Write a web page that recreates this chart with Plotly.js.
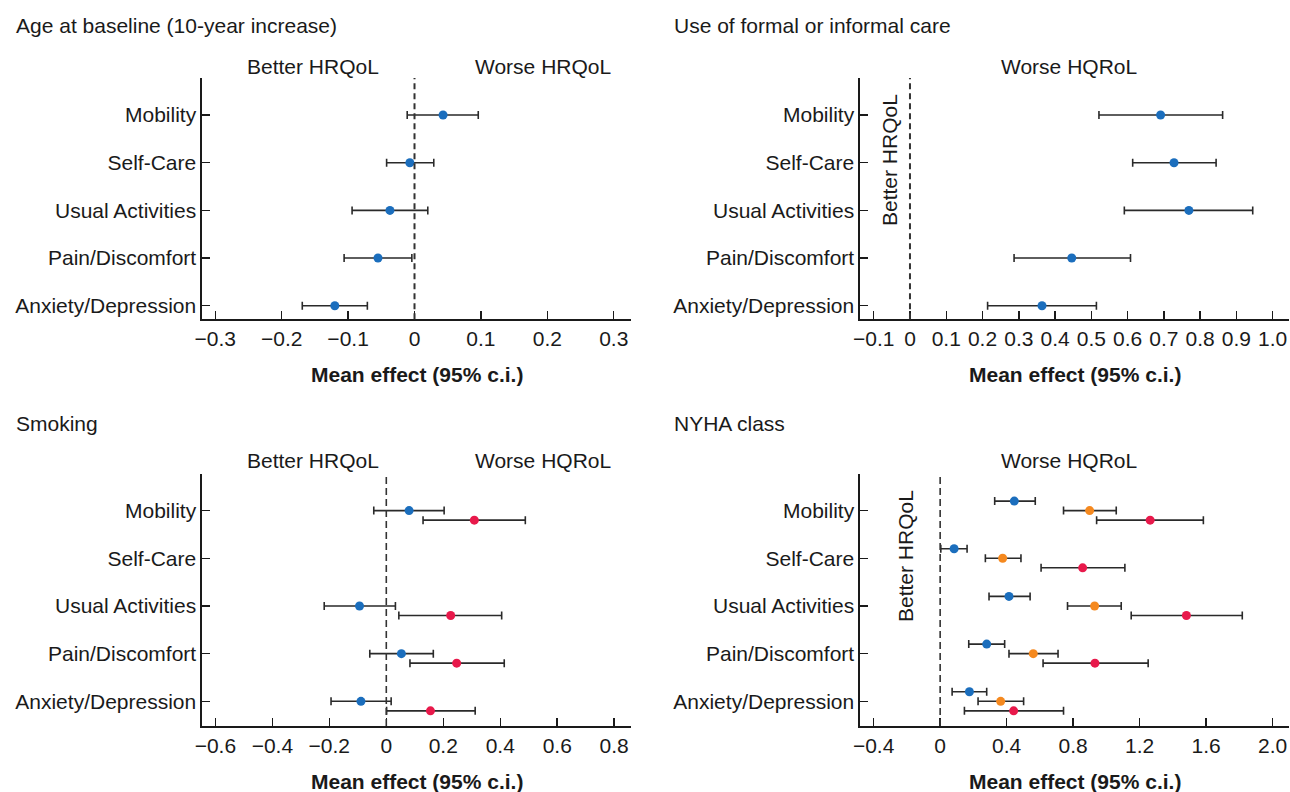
<!DOCTYPE html>
<html><head><meta charset="utf-8">
<script src="https://cdn.plot.ly/plotly-3.0.1.min.js"></script>
<style>html,body{margin:0;padding:0;background:#fff}#chart{width:1290px;height:792px}</style>
</head><body><div id="chart"></div>
<script>
// ---------- DATA ----------
const categories = ["Mobility", "Self-Care", "Usual Activities", "Pain/Discomfort", "Anxiety/Depression"];

// Age at baseline (10-year increase)
const ageMean  = [0.043, -0.007, -0.037, -0.055, -0.120];
const ageLower = [-0.011, -0.042, -0.094, -0.106, -0.169];
const ageUpper = [0.096, 0.029, 0.020, -0.004, -0.071];

// Use of formal or informal care
const careMean  = [0.691, 0.728, 0.769, 0.446, 0.364];
const careLower = [0.521, 0.614, 0.591, 0.287, 0.214];
const careUpper = [0.862, 0.844, 0.945, 0.608, 0.514];

// Smoking (two groups)
const smokeAMean  = [0.080, null, -0.094, 0.053, -0.089];
const smokeALower = [-0.044, null, -0.218, -0.058, -0.194];
const smokeAUpper = [0.203, null, 0.032, 0.165, 0.017];
const smokeBMean  = [0.309, null, 0.226, 0.247, 0.155];
const smokeBLower = [0.129, null, 0.044, 0.083, 0.001];
const smokeBUpper = [0.488, null, 0.405, 0.414, 0.312];

// NYHA class (three groups)
const nyhaIIMean  = [0.446, 0.084, 0.414, 0.280, 0.176];
const nyhaIILower = [0.328, 0.004, 0.294, 0.172, 0.072];
const nyhaIIUpper = [0.572, 0.162, 0.541, 0.388, 0.280];
const nyhaIIIMean  = [0.899, 0.376, 0.929, 0.560, 0.364];
const nyhaIIILower = [0.742, 0.272, 0.766, 0.414, 0.228];
const nyhaIIIUpper = [1.059, 0.486, 1.089, 0.709, 0.502];
const nyhaIVMean  = [1.263, 0.857, 1.481, 0.931, 0.442];
const nyhaIVLower = [0.941, 0.607, 1.149, 0.619, 0.146];
const nyhaIVUpper = [1.583, 1.111, 1.817, 1.251, 0.742];

// Tick labels
const ageTickVals  = [-0.3, -0.2, -0.1, 0, 0.1, 0.2, 0.3];
const ageTickText  = ["−0.3", "−0.2", "−0.1", "0", "0.1", "0.2", "0.3"];
const careTickVals = [-0.1, 0, 0.1, 0.2, 0.3, 0.4, 0.5, 0.6, 0.7, 0.8, 0.9, 1.0];
const careTickText = ["−0.1", "0", "0.1", "0.2", "0.3", "0.4", "0.5", "0.6", "0.7", "0.8", "0.9", "1.0"];
const smokeTickVals = [-0.6, -0.4, -0.2, 0, 0.2, 0.4, 0.6, 0.8];
const smokeTickText = ["−0.6", "−0.4", "−0.2", "0", "0.2", "0.4", "0.6", "0.8"];
const nyhaTickVals = [-0.4, 0, 0.4, 0.8, 1.2, 1.6, 2.0];
const nyhaTickText = ["−0.4", "0", "0.4", "0.8", "1.2", "1.6", "2.0"];

// Texts
const panelTitles = ["Age at baseline (10-year increase)", "Use of formal or informal care", "Smoking", "NYHA class"];
const betterText = "Better HRQoL";
const worseTextA = "Worse HRQoL";
const worseTextB = "Worse HQRoL";
const xTitle = "Mean effect (95% c.i.)";

// ---------- STYLE / LAYOUT ----------
const W = 1290, H = 792;
const FONT = "Liberation Sans, Arial, Helvetica, sans-serif";
const FS = 21;
const BLUE = "#1b6ebd", RED = "#e8194b", ORANGE = "#f5891f";
const INK = "#1a1a1a";
const px = v => v / W;
const py = v => 1 - v / H;

const boxes = [
  {x0: 202, x1: 631, y0: 78, y1: 319.3, range: [-0.320, 0.326], tv: ageTickVals, tt: ageTickText, yr: [-0.285, 4.777]},
  {x0: 860, x1: 1289, y0: 78, y1: 319.3, range: [-0.1378, 1.045], tv: careTickVals, tt: careTickText, yr: [-0.285, 4.777]},
  {x0: 202, x1: 631, y0: 474, y1: 726, range: [-0.647, 0.859], tv: smokeTickVals, tt: smokeTickText, yr: [-0.518, 4.768]},
  {x0: 860, x1: 1289, y0: 474, y1: 726, range: [-0.482, 2.098], tv: nyhaTickVals, tt: nyhaTickText, yr: [-0.518, 4.768]}
];

function series(mean, lo, hi, color, panel, offset, name) {
  const n = categories.length;
  const sfx = panel === 0 ? "" : String(panel + 1);
  return {
    type: "scatter", mode: "markers", name: name,
    x: mean,
    y: mean.map((_, k) => (n - 1 - k) + offset),
    xaxis: "x" + sfx, yaxis: "y" + sfx,
    marker: {color: color, size: 9},
    error_x: {
      type: "data", symmetric: false,
      array: hi.map((h, k) => h == null ? null : h - mean[k]),
      arrayminus: lo.map((l, k) => l == null ? null : mean[k] - l),
      color: "#2a2a2a", thickness: 1.6, width: 4
    },
    hoverinfo: "x+name", showlegend: false
  };
}

const data = [
  series(ageMean, ageLower, ageUpper, BLUE, 0, 0, "Age"),
  series(careMean, careLower, careUpper, BLUE, 1, 0, "Care"),
  series(smokeAMean, smokeALower, smokeAUpper, BLUE, 2, 0, "Smoking group 1"),
  series(smokeBMean, smokeBLower, smokeBUpper, RED, 2, -0.2, "Smoking group 2"),
  series(nyhaIIMean, nyhaIILower, nyhaIIUpper, BLUE, 3, 0.2, "NYHA II"),
  series(nyhaIIIMean, nyhaIIILower, nyhaIIIUpper, ORANGE, 3, 0, "NYHA III"),
  series(nyhaIVMean, nyhaIVLower, nyhaIVUpper, RED, 3, -0.2, "NYHA IV")
];

const layout = {
  width: W, height: H,
  margin: {l: 0, r: 0, t: 0, b: 0},
  paper_bgcolor: "#fff", plot_bgcolor: "rgba(0,0,0,0)",
  font: {family: FONT, size: FS, color: INK},
  showlegend: false,
  shapes: [], annotations: []
};

boxes.forEach((b, i) => {
  const sfx = i === 0 ? "" : String(i + 1);
  layout["xaxis" + sfx] = {
    domain: [px(b.x0), px(b.x1)], anchor: "y" + sfx,
    range: b.range, tickmode: "array", tickvals: b.tv, ticktext: b.tt,
    showgrid: false, zeroline: false, showline: true, linecolor: INK, linewidth: 1.6,
    ticks: "inside", ticklen: 8, tickwidth: 1.5, tickcolor: INK,
    tickfont: {family: FONT, size: FS, color: INK}, fixedrange: true
  };
  layout["yaxis" + sfx] = {
    domain: [py(b.y1), py(b.y0)], anchor: "x" + sfx,
    range: b.yr, tickmode: "array",
    tickvals: categories.map((_, k) => categories.length - 1 - k), ticktext: categories,
    showgrid: false, zeroline: false, showline: true, linecolor: INK, linewidth: 1.6,
    ticks: "inside", ticklen: 8, tickwidth: 1.5, tickcolor: INK,
    tickfont: {family: FONT, size: FS, color: INK}, fixedrange: true
  };
  // dashed zero reference line
  layout.shapes.push({
    type: "line", xref: "x" + sfx, yref: "y" + sfx + " domain",
    x0: 0, x1: 0, y0: 0, y1: 1,
    line: {color: "#333", width: i < 2 ? 2 : 1.6, dash: i < 2 ? "6px,4px" : "7px,4px"}
  });
  // axis title
  layout.annotations.push({
    xref: "paper", yref: "paper", x: px((b.x0 + b.x1) / 2), y: py(b.y1 + 55),
    text: "<b>" + xTitle + "</b>", showarrow: false, xanchor: "center", yanchor: "middle",
    font: {family: FONT, size: FS, color: INK}
  });
  // panel title
  layout.annotations.push({
    xref: "paper", yref: "paper", x: px(i % 2 === 0 ? 14 : 672), y: py(i < 2 ? 25 : 423),
    text: panelTitles[i], showarrow: false, xanchor: "left", yanchor: "middle",
    font: {family: FONT, size: FS, color: INK}
  });
});

// Direction labels
const dirLabels = [
  {x: 313, y: 66.5, t: betterText, rot: 0},
  {x: 543, y: 66.5, t: worseTextA, rot: 0},
  {x: 1069, y: 66.5, t: worseTextB, rot: 0},
  {x: 890, y: 160, t: betterText, rot: -90},
  {x: 313, y: 460, t: betterText, rot: 0},
  {x: 543, y: 460, t: worseTextB, rot: 0},
  {x: 1069, y: 460, t: worseTextB, rot: 0},
  {x: 905, y: 556, t: betterText, rot: -90}
];
dirLabels.forEach(d => layout.annotations.push({
  xref: "paper", yref: "paper", x: px(d.x), y: py(d.y), text: d.t, textangle: d.rot,
  showarrow: false, xanchor: "center", yanchor: "middle",
  font: {family: FONT, size: FS, color: INK}
}));

Plotly.newPlot("chart", data, layout, {displayModeBar: false, staticPlot: true});
</script>
</body></html>
